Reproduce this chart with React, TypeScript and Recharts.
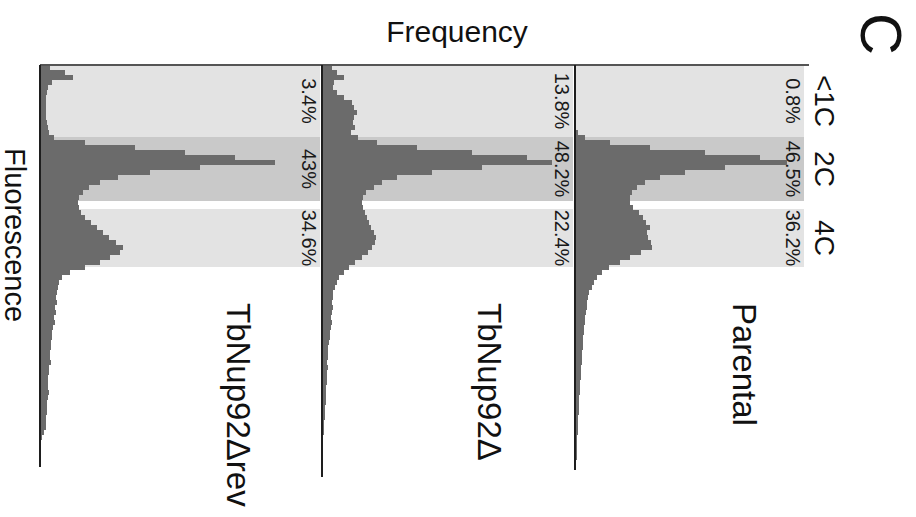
import React from "react";
import { Area, ComposedChart, ReferenceArea, ReferenceLine, XAxis, YAxis } from "recharts";

const FONT = "'Liberation Sans', Arial, Helvetica, sans-serif";

// fluorescence channel width of one histogram bin
const binWidth = 5;

const gates = ["<1C", "2C", "4C"];
const gateStart = [0, 72, 144];
const gateEnd = [72, 136, 202];

const samples = ["TbNup92Δrev", "TbNup92Δ", "Parental"];

// frequency per bin, read top (low fluorescence) to bottom
const revCounts = [
  10, 25, 33, 12, 8, 7, 6, 6, 6, 6, 6, 7, 8, 9, 14, 45, 95, 145, 195, 235,
  160, 110, 78, 60, 49, 43, 39, 38, 39, 41, 45, 51, 57, 63, 69, 76, 83, 80, 70, 60,
  45, 30, 22, 19, 18, 17, 16, 17, 15, 16, 14, 15, 13, 12, 12, 11, 11, 10, 10, 11,
  9, 9, 8, 8, 8, 9, 8, 7, 7, 7, 6, 6, 6, 4, 2,
];
const koCounts = [
  10, 15, 22, 12, 11, 15, 22, 30, 32, 35, 32, 31, 33, 29, 36, 55, 95, 150, 205, 230,
  160, 110, 75, 60, 52, 44, 41, 40, 41, 43, 45, 47, 49, 52, 54, 53, 50, 46, 40, 33,
  27, 22, 17, 15, 13, 11, 11, 10, 11, 10, 9, 10, 9, 8, 8, 7, 6, 6, 6, 5,
  6, 5, 5, 5, 4, 4, 4, 4, 3, 3, 3, 2, 2, 2, 1,
];
const parentalCounts = [
  0, 0, 0, 0, 0, 0, 0, 0, 0, 0, 0, 0, 1, 3, 10, 35, 75, 130, 185, 212,
  150, 110, 85, 70, 62, 57, 55, 55, 58, 64, 68, 71, 75, 72, 73, 76, 77, 66, 55, 45,
  34, 27, 22, 19, 17, 14, 13, 12, 12, 11, 10, 10, 9, 9, 8, 8, 8, 7, 7, 7,
  6, 6, 6, 5, 5, 5, 4, 4, 4, 4, 3, 3, 3, 3, 2, 2, 2, 2, 2, 1,
];

const revPct = ["3.4%", "43%", "34.6%"];
const koPct = ["13.8%", "48.2%", "22.4%"];
const parentalPct = ["0.8%", "46.5%", "36.2%"];

const panels = [
  { counts: revCounts, pct: revPct, axisX: 40, width: 282, bandWidth: 280, length: 402, nameX: 227 },
  { counts: koCounts, pct: koPct, axisX: 322, width: 253, bandWidth: 251, length: 412, nameX: 478 },
  { counts: parentalCounts, pct: parentalPct, axisX: 575, width: 234, bandWidth: 229, length: 405, nameX: 733 },
];

const gateFill = ["#e3e3e3", "#c9c9c9", "#e3e3e3"];

const pctLabel = (text: string) => (props: any) => {
  const vb = props.viewBox || {};
  const x = vb.x + vb.width - 18;
  const y = vb.y + vb.height / 2;
  return (
    <text x={x} y={y} transform={`rotate(90 ${x} ${y})`} textAnchor="middle" fontSize={20} fill="#1a1a1a" fontFamily={FONT}>
      {text}
    </text>
  );
};

function Panel({ p }: { p: (typeof panels)[number] }) {
  const rows = p.counts
    .map((v, i) => ({ ch: i * binWidth, v }))
    .concat({ ch: p.counts.length * binWidth, v: 0 });

  return (
    <div style={{ position: "absolute", left: p.axisX - 2, top: 0 }}>
      <ComposedChart
        layout="vertical"
        width={p.width + 4}
        height={65 + p.length + 2}
        data={rows}
        margin={{ top: 65, right: 2, bottom: 2, left: 2 }}
      >
        <XAxis type="number" domain={[0, p.width]} hide allowDataOverflow />
        <YAxis type="number" dataKey="ch" domain={[0, p.length]} hide allowDataOverflow />
        {gates.map((g, i) => (
          <ReferenceArea key={g} x1={0} x2={p.bandWidth} y1={gateStart[i]} y2={gateEnd[i]}
            fill={gateFill[i]} fillOpacity={1} stroke="none" ifOverflow="visible" label={pctLabel(p.pct[i])} />
        ))}
        <Area type="stepBefore" dataKey="v" fill="#6b6b6b" fillOpacity={1} stroke="none"
          isAnimationActive={false} dot={false} activeDot={false} />
        {/* frequency baseline and top frame edge */}
        <ReferenceLine y={0} stroke="#555" strokeWidth={2} ifOverflow="visible" />
        <ReferenceLine x={0} stroke="#1e1e1e" strokeWidth={2} ifOverflow="visible" />
      </ComposedChart>
    </div>
  );
}

export default function App() {
  const gateCenter = gates.map((_, i) => 65 + (gateStart[i] + gateEnd[i]) / 2);
  return (
    <div style={{ position: "absolute", left: 0, top: 0, width: 916, height: 517, background: "#fff", overflow: "hidden" }}>
      {panels.map((p, i) => (
        <Panel key={i} p={p} />
      ))}
      <svg width={916} height={517} style={{ position: "absolute", left: 0, top: 0, pointerEvents: "none" }} fontFamily={FONT}>
        <text x={457} y={42} textAnchor="middle" fontSize={30} fill="#111">Frequency</text>
        <text x={5} y={148} transform="rotate(90 5 148)" fontSize={29} fill="#111">Fluorescence</text>
        <text x={861} y={13} transform="rotate(90 861 13)" fontSize={58} fill="#111">C</text>
        {gates.map((g, i) => (
          <text key={g} x={815} y={gateCenter[i]} transform={`rotate(90 815 ${gateCenter[i]})`} textAnchor="middle" fontSize={28} fill="#111">
            {g}
          </text>
        ))}
        {samples.map((s, i) => (
          <text key={s} x={panels[i].nameX} y={303} transform={`rotate(90 ${panels[i].nameX} 303)`} fontSize={33} fill="#111">
            {s}
          </text>
        ))}
      </svg>
    </div>
  );
}
